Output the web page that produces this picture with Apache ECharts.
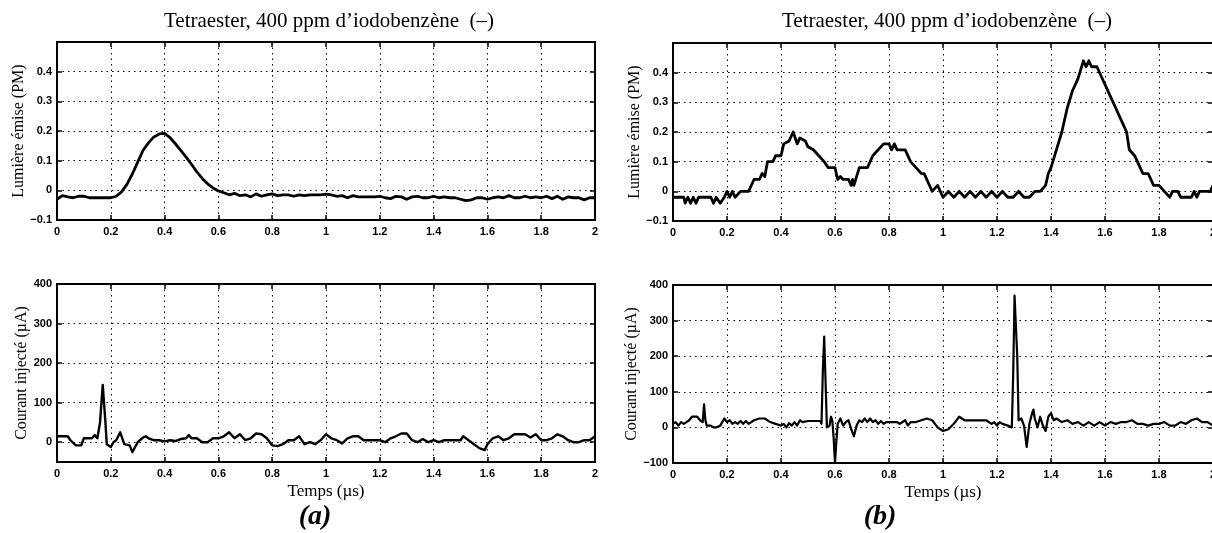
<!DOCTYPE html>
<html>
<head>
<meta charset="utf-8">
<script src="https://cdn.jsdelivr.net/npm/echarts@6/dist/echarts.min.js"></script>
<style>
  html, body { margin: 0; padding: 0; background: #fff; }
  #chart { width: 1212px; height: 533px; }
</style>
</head>
<body>
<div id="chart"></div>
<script>
// (a) light emitted, [time µs, PM]
var lightA = [
  [0,-0.03],[0.02,-0.018],[0.04,-0.022],[0.06,-0.025],[0.08,-0.02],[0.1,-0.02],[0.12,-0.025],[0.14,-0.025],
  [0.16,-0.025],[0.18,-0.025],[0.2,-0.025],[0.22,-0.02],[0.24,-0.005],[0.26,0.02],[0.28,0.055],[0.3,0.095],
  [0.32,0.135],[0.34,0.16],[0.36,0.18],[0.38,0.19],[0.4,0.192],[0.42,0.178],[0.44,0.157],[0.46,0.135],
  [0.48,0.112],[0.5,0.088],[0.52,0.062],[0.54,0.04],[0.56,0.022],[0.58,0.008],[0.6,-0.002],[0.62,-0.008],
  [0.64,-0.015],[0.66,-0.01],[0.68,-0.018],[0.7,-0.015],[0.72,-0.022],[0.74,-0.012],[0.76,-0.02],[0.78,-0.015],
  [0.8,-0.012],[0.82,-0.018],[0.84,-0.015],[0.86,-0.015],[0.88,-0.02],[0.9,-0.015],[0.92,-0.018],[0.94,-0.015],
  [0.96,-0.015],[0.98,-0.015],[1,-0.013],[1.02,-0.015],[1.04,-0.02],[1.06,-0.018],[1.08,-0.025],[1.1,-0.018],
  [1.12,-0.022],[1.14,-0.022],[1.16,-0.022],[1.18,-0.022],[1.2,-0.02],[1.22,-0.025],[1.24,-0.028],[1.26,-0.02],
  [1.28,-0.022],[1.3,-0.03],[1.32,-0.022],[1.34,-0.02],[1.36,-0.025],[1.38,-0.025],[1.4,-0.02],[1.42,-0.025],
  [1.44,-0.022],[1.46,-0.025],[1.48,-0.025],[1.5,-0.03],[1.52,-0.035],[1.54,-0.032],[1.56,-0.025],[1.58,-0.025],
  [1.6,-0.03],[1.62,-0.025],[1.64,-0.022],[1.66,-0.025],[1.68,-0.018],[1.7,-0.025],[1.72,-0.025],[1.74,-0.02],
  [1.76,-0.025],[1.78,-0.022],[1.8,-0.025],[1.82,-0.02],[1.84,-0.028],[1.86,-0.02],[1.88,-0.03],[1.9,-0.022],
  [1.92,-0.025],[1.94,-0.025],[1.96,-0.032],[1.98,-0.025],[2,-0.025]
];

// (a) injected current, [time µs, µA]
var currentA = [
  [0,15],[0.04,15],[0.05,5],[0.07,-8],[0.09,-8],[0.1,10],[0.13,10],[0.14,18],[0.15,10],[0.16,50],[0.17,145],
  [0.18,50],[0.185,-5],[0.19,0],[0.2,-12],[0.21,0],[0.22,5],[0.235,25],[0.25,-5],[0.27,-8],[0.28,-25],[0.3,0],
  [0.32,12],[0.33,15],[0.34,10],[0.36,5],[0.38,5],[0.4,2],[0.42,5],[0.44,3],[0.46,8],[0.48,10],[0.49,18],
  [0.5,10],[0.52,10],[0.54,0],[0.56,0],[0.58,10],[0.6,10],[0.62,15],[0.64,25],[0.66,10],[0.68,20],[0.7,5],
  [0.72,10],[0.74,22],[0.76,20],[0.78,10],[0.8,-8],[0.82,-10],[0.84,-5],[0.86,5],[0.88,5],[0.9,15],[0.92,-5],
  [0.94,0],[0.96,-5],[0.98,5],[1,20],[1.02,10],[1.04,5],[1.06,-3],[1.08,10],[1.1,15],[1.12,15],[1.14,5],
  [1.16,5],[1.18,5],[1.2,5],[1.22,0],[1.24,10],[1.26,15],[1.28,22],[1.3,22],[1.32,5],[1.34,0],[1.36,8],
  [1.38,0],[1.4,5],[1.42,0],[1.44,5],[1.46,5],[1.48,5],[1.5,5],[1.51,15],[1.53,5],[1.55,-5],[1.57,-15],
  [1.59,-20],[1.6,-5],[1.62,10],[1.64,15],[1.66,5],[1.68,10],[1.7,20],[1.72,20],[1.74,20],[1.76,12],[1.78,20],
  [1.8,5],[1.82,5],[1.84,10],[1.86,20],[1.88,15],[1.9,5],[1.92,0],[1.94,0],[1.96,5],[1.98,5],[2,15]
];

// (b) light emitted
var lightB = [
  [0,-0.02],[0.04,-0.02],[0.045,-0.04],[0.055,-0.02],[0.065,-0.04],[0.075,-0.02],[0.085,-0.04],[0.095,-0.02],
  [0.14,-0.02],[0.15,-0.04],[0.16,-0.02],[0.175,-0.04],[0.19,-0.02],[0.2,0],[0.21,-0.02],[0.22,0],[0.23,-0.02],
  [0.25,0],[0.28,0],[0.3,0.04],[0.32,0.04],[0.33,0.06],[0.34,0.05],[0.35,0.1],[0.37,0.1],[0.38,0.12],[0.4,0.12],
  [0.41,0.16],[0.43,0.17],[0.445,0.2],[0.46,0.16],[0.47,0.18],[0.49,0.17],[0.5,0.15],[0.52,0.14],[0.54,0.12],
  [0.56,0.1],[0.575,0.08],[0.6,0.08],[0.61,0.04],[0.62,0.05],[0.63,0.04],[0.65,0.04],[0.66,0.02],[0.665,0.04],
  [0.67,0.02],[0.69,0.08],[0.72,0.08],[0.74,0.12],[0.76,0.14],[0.78,0.16],[0.8,0.16],[0.81,0.14],[0.82,0.16],
  [0.83,0.14],[0.86,0.14],[0.88,0.1],[0.9,0.08],[0.92,0.06],[0.93,0.06],[0.95,0.02],[0.96,0],[0.98,0.02],
  [1,-0.02],[1.02,0],[1.04,-0.02],[1.06,0],[1.08,-0.02],[1.1,0],[1.12,-0.02],[1.14,0],[1.16,-0.02],[1.18,0],
  [1.2,-0.02],[1.22,0],[1.24,-0.02],[1.26,-0.02],[1.28,0],[1.3,-0.02],[1.32,-0.02],[1.34,0],[1.36,0],
  [1.38,0.02],[1.39,0.06],[1.4,0.08],[1.42,0.14],[1.44,0.2],[1.46,0.28],[1.48,0.34],[1.5,0.38],[1.52,0.44],
  [1.53,0.42],[1.54,0.44],[1.55,0.42],[1.57,0.42],[1.6,0.36],[1.62,0.32],[1.64,0.28],[1.66,0.24],[1.68,0.2],
  [1.69,0.14],[1.71,0.12],[1.72,0.1],[1.74,0.06],[1.76,0.06],[1.78,0.02],[1.8,0.02],[1.82,0],[1.84,-0.02],
  [1.85,0],[1.87,0],[1.88,-0.02],[1.92,-0.02],[1.93,0],[1.94,-0.02],[1.95,0],[1.99,0],[2,0.02]
];

// (b) injected current
var currentB = [
  [0,10],[0.01,15],[0.02,5],[0.03,15],[0.04,10],[0.05,15],[0.06,20],[0.07,30],[0.09,30],[0.1,20],[0.11,15],
  [0.115,65],[0.12,20],[0.125,5],[0.14,5],[0.15,0],[0.16,0],[0.175,5],[0.19,25],[0.2,15],[0.21,20],[0.22,10],
  [0.23,15],[0.24,10],[0.25,18],[0.26,10],[0.27,18],[0.28,10],[0.3,20],[0.32,25],[0.34,25],[0.36,15],[0.38,10],
  [0.4,5],[0.41,10],[0.42,0],[0.43,12],[0.44,5],[0.45,15],[0.46,5],[0.47,20],[0.48,15],[0.5,18],[0.545,18],
  [0.55,10],[0.555,160],[0.56,255],[0.565,130],[0.57,0],[0.575,-5],[0.58,5],[0.585,30],[0.59,20],[0.595,-30],
  [0.6,-100],[0.605,-40],[0.61,10],[0.62,25],[0.63,5],[0.64,15],[0.65,20],[0.66,-5],[0.67,-25],[0.68,5],
  [0.69,20],[0.7,15],[0.71,25],[0.72,15],[0.73,25],[0.74,15],[0.75,20],[0.76,10],[0.77,18],[0.78,10],[0.79,15],
  [0.83,15],[0.84,10],[0.86,20],[0.87,5],[0.88,15],[0.9,15],[0.92,20],[0.94,25],[0.96,20],[0.98,0],[1,-10],
  [1.02,-5],[1.04,10],[1.06,30],[1.08,20],[1.16,20],[1.17,15],[1.18,10],[1.19,15],[1.2,5],[1.21,15],[1.22,10],
  [1.24,5],[1.255,0],[1.26,150],[1.265,370],[1.275,200],[1.28,20],[1.29,25],[1.3,5],[1.31,-55],[1.32,10],
  [1.33,40],[1.335,50],[1.34,25],[1.35,0],[1.36,30],[1.37,5],[1.38,-10],[1.39,30],[1.4,40],[1.41,20],[1.42,25],
  [1.44,15],[1.46,20],[1.48,10],[1.5,15],[1.52,5],[1.54,15],[1.56,5],[1.58,15],[1.6,5],[1.62,15],[1.64,10],
  [1.66,15],[1.68,15],[1.7,20],[1.72,10],[1.74,10],[1.76,5],[1.78,10],[1.8,10],[1.82,15],[1.84,5],[1.86,5],
  [1.88,15],[1.9,10],[1.92,20],[1.94,25],[1.96,15],[1.98,15],[2,5]
];

var titleText = 'Tetraester, 400 ppm d\u2019iodobenzène  (\u2013)';
var lightName = 'Lumière émise (PM)';
var currentName = 'Courant injecté (\u00b5A)';
var timeName = 'Temps (\u00b5s)';

var serif = '"Liberation Serif", "Times New Roman", serif';
var sans = '"Liberation Sans", Arial, sans-serif';

var chart = echarts.init(document.getElementById('chart'));

var grids = [
  {left: 57, top: 42, width: 538, height: 178},
  {left: 57, top: 284, width: 538, height: 178},
  {left: 673, top: 43, width: 540, height: 178},
  {left: 673, top: 285, width: 540, height: 178}
];

function fmtY(hide) {
  return function (v) {
    v = Math.round(v * 1000) / 1000;
    if (hide.indexOf(v) >= 0) return '';
    return v < 0 ? '\u2212' + (-v) : String(v);
  };
}

var dotted = {color: '#000', width: 1, type: [1.5, 4]};
var tick = {show: true, inside: true, length: 5, lineStyle: {color: '#000', width: 1.5}};

function mainX(i, named) {
  return {
    type: 'value', gridIndex: i, min: 0, max: 2, interval: 0.2, position: 'bottom',
    axisLine: {show: false, onZero: false},
    axisTick: tick,
    axisLabel: {color: '#000', fontFamily: sans, fontWeight: 'bold', fontSize: 11, margin: 6},
    splitLine: {show: true, lineStyle: dotted},
    name: named ? timeName : '',
    nameLocation: 'middle', nameGap: 21,
    nameTextStyle: {color: '#000', fontFamily: serif, fontSize: 17}
  };
}
function topX(i) {
  return {
    type: 'value', gridIndex: i, min: 0, max: 2, interval: 0.2, position: 'top',
    axisLine: {show: false, onZero: false}, axisLabel: {show: false}, splitLine: {show: false},
    axisTick: tick
  };
}
function mainY(i, min, max, interval, hide, name, gap) {
  var ax = {
    type: 'value', gridIndex: i, min: min, max: max, position: 'left',
    axisLine: {show: false, onZero: false},
    axisTick: tick,
    axisLabel: {color: '#000', fontFamily: sans, fontWeight: 'bold', fontSize: 11, margin: 5, formatter: fmtY(hide)},
    splitLine: {show: true, lineStyle: dotted},
    name: name, nameLocation: 'middle', nameRotate: 90, nameGap: gap,
    nameTextStyle: {color: '#000', fontFamily: serif, fontSize: 16}
  };
  if (interval) ax.interval = interval;
  return ax;
}
function rightY(i, min, max, interval) {
  var ax = {
    type: 'value', gridIndex: i, min: min, max: max, position: 'right',
    axisLine: {show: false, onZero: false}, axisLabel: {show: false}, splitLine: {show: false},
    axisTick: tick
  };
  if (interval) ax.interval = interval;
  return ax;
}

function trace(xi, yi, data, w) {
  return {
    type: 'line', xAxisIndex: xi, yAxisIndex: yi, data: data,
    showSymbol: false, symbol: 'none', animation: false,
    lineStyle: {color: '#000', width: w, join: 'round'}
  };
}

function label(text, x, y, font) {
  return {type: 'text', x: x, y: y, style: {text: text, font: font, fill: '#000',
    textAlign: 'center', textVerticalAlign: 'top', verticalAlign: 'top'}};
}

var option = {
  animation: false,
  backgroundColor: '#fff',
  grid: grids.map(function (g) {
    return Object.assign({show: true, borderColor: '#000', borderWidth: 2, backgroundColor: 'transparent',
      outerBoundsMode: 'none', containLabel: false}, g);
  }),
  xAxis: [
    mainX(0, false), mainX(1, true), mainX(2, false), mainX(3, true),
    topX(0), topX(1), topX(2), topX(3)
  ],
  yAxis: [
    mainY(0, -0.1, 0.5, 0.1, [0.5], lightName, 27),
    mainY(1, -50, 400, null, [-50], currentName, 26),
    mainY(2, -0.1, 0.5, 0.1, [0.5], lightName, 29),
    mainY(3, -100, 400, 100, [], currentName, 31),
    rightY(0, -0.1, 0.5, 0.1), rightY(1, -50, 400, null),
    rightY(2, -0.1, 0.5, 0.1), rightY(3, -100, 400, 100)
  ],
  series: [
    trace(0, 0, lightA, 2.8),
    trace(1, 1, currentA, 2.4),
    trace(2, 2, lightB, 2.8),
    trace(3, 3, currentB, 2.2)
  ],
  graphic: [
    label(titleText, 329, 11, '21px ' + serif),
    label(titleText, 947, 11, '21px ' + serif),
    label('(a)', 315, 503, 'italic bold 28px ' + serif),
    label('(b)', 880, 503, 'italic bold 28px ' + serif)
  ]
};

chart.setOption(option);
</script>
</body>
</html>
